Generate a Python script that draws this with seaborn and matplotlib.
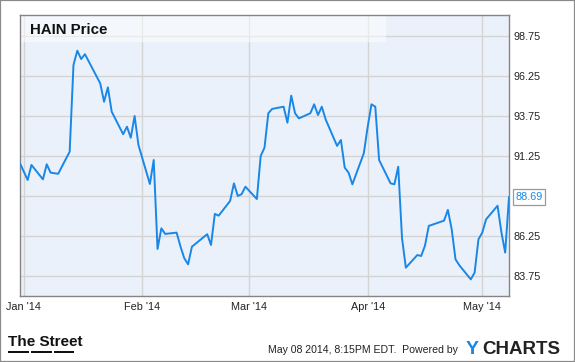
import matplotlib
matplotlib.use('Agg')
import matplotlib.pyplot as plt
import seaborn as sns
import pandas as pd
from matplotlib.patches import Rectangle

dates = [
    '2013-12-31', '2014-01-02', '2014-01-03', '2014-01-06', '2014-01-07', '2014-01-08',
    '2014-01-09', '2014-01-10', '2014-01-13', '2014-01-14', '2014-01-15', '2014-01-16',
    '2014-01-17', '2014-01-21', '2014-01-22', '2014-01-23', '2014-01-24', '2014-01-27',
    '2014-01-28', '2014-01-29', '2014-01-30', '2014-01-31',
    '2014-02-03', '2014-02-04', '2014-02-05', '2014-02-06', '2014-02-07', '2014-02-10',
    '2014-02-11', '2014-02-12', '2014-02-13', '2014-02-14', '2014-02-18', '2014-02-19',
    '2014-02-20', '2014-02-21', '2014-02-24', '2014-02-25', '2014-02-26', '2014-02-27',
    '2014-02-28',
    '2014-03-03', '2014-03-04', '2014-03-05', '2014-03-06', '2014-03-07', '2014-03-10',
    '2014-03-11', '2014-03-12', '2014-03-13', '2014-03-14', '2014-03-17', '2014-03-18',
    '2014-03-19', '2014-03-20', '2014-03-21', '2014-03-24', '2014-03-25', '2014-03-26',
    '2014-03-27', '2014-03-28', '2014-03-31',
    '2014-04-01', '2014-04-02', '2014-04-03', '2014-04-04', '2014-04-07', '2014-04-08',
    '2014-04-09', '2014-04-10', '2014-04-11', '2014-04-14', '2014-04-15', '2014-04-16',
    '2014-04-17', '2014-04-21', '2014-04-22', '2014-04-23', '2014-04-24', '2014-04-25',
    '2014-04-28', '2014-04-29', '2014-04-30',
    '2014-05-01', '2014-05-02', '2014-05-05', '2014-05-06', '2014-05-07', '2014-05-08',
]
prices = [
    90.79, 89.75, 90.69, 89.79, 90.73, 90.21, 90.17, 90.14, 91.52, 96.94, 97.83, 97.31,
    97.61, 95.79, 94.64, 95.54, 94.02, 92.61, 93.08, 92.39, 93.75, 91.94,
    89.50, 91.00, 85.44, 86.73, 86.38, 86.46, 85.60, 84.86, 84.48, 85.58, 86.36, 85.69,
    87.63, 87.52, 88.44, 89.54, 88.75, 88.86, 89.33,
    88.56, 91.25, 91.77, 93.92, 94.19, 94.33, 93.33, 95.02, 93.92, 93.60, 93.92, 94.48,
    93.81, 94.33, 93.54, 91.88, 92.25, 90.52, 90.21, 89.48, 91.42,
    93.06, 94.48, 94.33, 91.00, 89.54, 89.48, 90.58, 86.11, 84.27, 85.06, 85.00, 85.64,
    86.88, 87.21, 87.88, 86.67, 84.79, 84.42, 83.54, 83.96, 86.04,
    86.46, 87.29, 88.14, 86.50, 85.21, 88.69,
]
y_ticks = [83.75, 86.25, 88.75, 91.25, 93.75, 96.25, 98.75]
y_tick_labels = ['83.75', '86.25', '', '91.25', '93.75', '96.25', '98.75']
x_tick_dates = ['2014-01-01', '2014-02-01', '2014-03-01', '2014-04-01', '2014-05-01']
x_tick_labels = ["Jan '14", "Feb '14", "Mar '14", "Apr '14", "May '14"]
title = 'HAIN Price'
last_label = '88.69'
footer = 'May 08 2014, 8:15PM EDT.  Powered by'

sns.set_theme(style='white')
plt.rcParams['font.family'] = ['Liberation Sans', 'DejaVu Sans']

W, H = 575, 362
fig = plt.figure(figsize=(W / 100, H / 100), dpi=100)
fig.patch.set_facecolor('white')

def fx(px):
    return px / W

def fy(py):
    return 1 - py / H

ax = fig.add_axes([fx(20), fy(296), 489 / W, 281 / H])
df = pd.DataFrame({'date': pd.to_datetime(dates), 'price': prices})
line_color = '#1a87e6'
sns.lineplot(data=df, x='date', y='price', ax=ax, color=line_color, linewidth=1.4, zorder=3)

ax.set_facecolor('#eaf1fb')
ax.set_xlim(pd.Timestamp('2013-12-31'), pd.Timestamp('2014-05-08'))
ax.set_ylim(82.5, 100.06)
ax.set_yticks(y_ticks)
ax.set_yticklabels(y_tick_labels)
ax.yaxis.tick_right()
ax.set_xticks(pd.to_datetime(x_tick_dates))
ax.set_xticklabels(x_tick_labels)
ax.grid(True, color='#d4d4d4', linewidth=1.0)
ax.set_axisbelow(True)
ax.tick_params(axis='y', length=0, labelsize=7.8, colors='#222222', pad=3.6)
ax.tick_params(axis='x', length=0, labelsize=7.8, colors='#222222', pad=4.6)
ax.set_xlabel('')
ax.set_ylabel('')
for s in ax.spines.values():
    s.set_color('#858585')
    s.set_linewidth(1.0)

# header band
ax.add_patch(Rectangle((0, (296 - 42) / 281), (386 - 20) / 489, 1 - (296 - 42) / 281,
                       transform=ax.transAxes, facecolor='white', alpha=0.5,
                       edgecolor='none', zorder=1))
fig.text(fx(30), fy(34), title, fontsize=10.8, fontweight='bold', color='#111111',
         va='baseline', ha='left')

# last value label
ax.text(1 + 6.5 / 489, 88.69, last_label, transform=ax.get_yaxis_transform(),
        fontsize=7.8, color=line_color, va='center', ha='left', clip_on=False,
        bbox=dict(boxstyle='square,pad=0.25', facecolor='white', edgecolor='#9a9a9a',
                  linewidth=0.9))

# footer
fig.text(fx(8), fy(345.5), 'The Street', fontsize=11, fontweight='bold',
         color='#111111', va='baseline', ha='left')
for x0, x1 in [(8.3, 29), (31, 51.7), (54, 74)]:
    fig.patches.append(Rectangle((fx(x0), fy(353.3)), (x1 - x0) / W, 2.4 / H,
                                 transform=fig.transFigure, facecolor='#111111',
                                 edgecolor='none'))
fig.text(fx(268), fy(353), footer, fontsize=7.6, color='#222222', va='baseline', ha='left')
fig.text(fx(466), fy(354), 'Y', fontsize=14, fontweight='bold', color='#1a87e6',
         va='baseline', ha='left')
fig.text(fx(482), fy(354), 'CHARTS', fontsize=13.5, fontweight='bold', color='#222222',
         va='baseline', ha='left')

# outer border
fig.patches.append(Rectangle((0, 0), 1, 1, transform=fig.transFigure, fill=False,
                             edgecolor='#8a8a8a', linewidth=1.6))

fig.savefig('out.png', dpi=100)
